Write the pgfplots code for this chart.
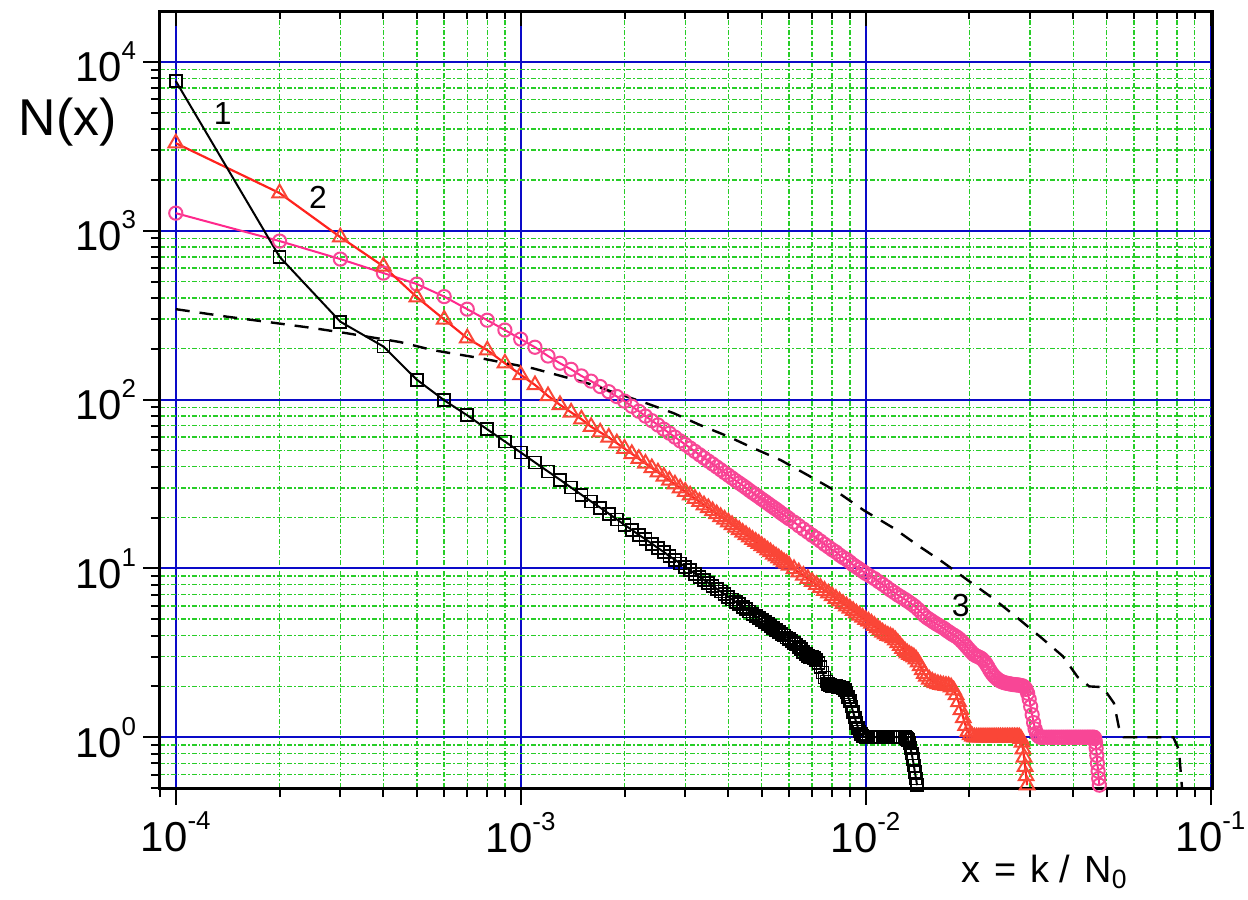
\documentclass[border=0pt]{standalone}
\usepackage{fontspec}
\setmainfont{Liberation Sans}
\usepackage{pgfplots}
\usepackage{pgfplotstable}
\pgfplotsset{compat=1.18}

\definecolor{majgrid}{RGB}{10,10,200}
\definecolor{mingrid}{RGB}{40,205,40}
\definecolor{redline}{RGB}{255,35,30}
\definecolor{redmark}{RGB}{250,70,55}
\definecolor{pinkline}{RGB}{255,40,140}
\definecolor{pinkmark}{RGB}{248,70,150}

% power-of-ten tick label
\newcommand{\dec}[1]{10\raisebox{11bp}{\fontsize{13}{13}\selectfont #1}}

% curve 1: k  N
\pgfplotstableread{
k N
1 7700
2 700
3 289
4 206
5 131
6 99
7 80.6
8 66.6
9 56.4
10 48.6
11 42.4
12 37.5
13 33.5
14 30.1
15 27.3
16 24.9
17 22.9
18 21.1
19 19.5
20 18.1
21 16.9
22 15.8
23 14.9
24 14.0
25 13.2
26 12.5
27 11.8
28 11.25
29 10.7
30 10.2
31 9.74
32 9.31
33 8.91
34 8.54
35 8.20
36 7.88
37 7.57
38 7.29
39 7.03
40 6.78
41 6.55
42 6.33
43 6.12
44 5.92
45 5.74
46 5.56
47 5.39
48 5.24
49 5.08
50 4.94
51 4.80
52 4.67
53 4.55
54 4.43
55 4.31
56 4.21
57 4.10
58 4.00
59 3.90
60 3.81
61 3.72
62 3.63
63 3.54
64 3.44
65 3.33
66 3.21
67 3.10
68 3.03
69 3.00
70 2.98
71 2.95
72 2.88
73 2.76
74 2.60
75 2.42
76 2.26
77 2.14
78 2.07
79 2.03
80 2.01
81 2.00
82 2.00
83 1.99
84 1.98
85 1.97
86 1.95
87 1.91
88 1.84
89 1.74
90 1.63
91 1.52
92 1.41
93 1.31
94 1.22
95 1.14
96 1.08
97 1.04
98 1.02
99 1.01
100 1.00
102 1.00
104 1.00
106 1.00
108 1.00
110 1.00
112 1.00
114 1.00
116 1.00
118 1.00
120 1.00
122 1.00
124 1.00
126 1.00
128 1.00
130 1.00
131 0.99
132 0.98
133 0.96
134 0.92
135 0.86
136 0.80
137 0.74
138 0.68
139 0.62
140 0.57
141 0.52
}\curveA

% curve 2: k  N
\pgfplotstableread{
k N
1 3300
2 1670
3 916
4 615
5 404
6 298
7 231
8 196
9 164
10 140
11 122
12 105
13 93
14 84
15 76.5
16 69
17 64
18 59.7
19 55.2
20 51.2
21 47.7
22 44.6
23 41.8
24 39.3
25 37.1
26 35.0
27 33.2
28 31.5
29 29.9
30 28.5
31 27.1
32 25.9
33 24.8
34 23.7
35 22.8
36 21.9
37 21.0
38 20.2
39 19.5
40 18.8
41 18.1
42 17.5
43 16.9
44 16.3
45 15.8
46 15.3
47 14.8
48 14.4
49 14.0
50 13.6
51 13.2
52 12.8
53 12.5
54 12.1
55 11.8
56 11.5
57 11.2
58 10.9
59 10.7
60 10.4
62 9.93
64 9.49
66 9.07
68 8.69
70 8.33
72 8.00
74 7.69
76 7.39
78 7.12
80 6.86
82 6.62
84 6.40
86 6.18
88 5.98
90 5.79
92 5.61
94 5.43
96 5.27
98 5.12
100 4.97
102 4.85
104 4.72
106 4.58
108 4.44
110 4.30
112 4.18
114 4.08
116 4.00
118 3.95
120 3.88
122 3.76
124 3.62
126 3.48
128 3.35
130 3.24
132 3.15
134 3.08
136 3.03
138 2.98
140 2.90
142 2.78
144 2.64
146 2.50
148 2.38
150 2.29
153 2.20
156 2.14
159 2.10
162 2.07
165 2.05
168 2.03
171 2.02
174 2.01
177 1.98
180 1.90
183 1.78
186 1.62
189 1.45
192 1.30
195 1.17
198 1.08
201 1.03
204 1.01
207 1.00
210 1.00
213 1.00
216 1.00
219 1.00
222 1.00
225 1.00
228 1.00
231 1.00
234 1.00
237 1.00
240 1.00
243 1.00
246 1.00
249 1.00
252 1.00
255 1.00
258 1.00
261 1.00
264 1.00
267 1.00
270 1.00
273 1.00
276 1.00
279 1.00
282 0.98
284 0.93
286 0.85
288 0.76
290 0.67
292 0.59
294 0.52
}\curveB

% curve 3 (markers): k  N
\pgfplotstableread{
k N
1 1270
2 868
3 679
4 561
5 483
6 407
7 343
8 295
9 258
10 228
11 204
12 181
13 164
14 151
15 138
16 128.5
17 119.4
18 111.3
19 104.2
20 97.9
21 91.2
22 85.2
23 79.8
24 75.0
25 70.7
26 66.7
27 63.2
28 59.9
29 56.9
30 54.2
31 51.6
32 49.3
33 47.1
34 45.1
35 43.2
36 41.5
37 39.9
38 38.4
39 36.9
40 35.6
41 34.3
42 33.1
43 32.0
44 31.0
45 30.0
46 29.0
47 28.1
48 27.3
49 26.5
50 25.7
51 25.0
52 24.3
53 23.6
54 23.0
55 22.4
56 21.8
57 21.2
58 20.7
59 20.2
60 19.7
62 18.8
64 17.9
66 17.1
68 16.4
70 15.7
72 15.1
74 14.5
76 13.9
78 13.4
80 12.9
82 12.5
84 12.0
86 11.6
88 11.3
90 10.9
92 10.5
94 10.2
96 9.91
98 9.62
100 9.34
103 9.00
106 8.70
109 8.35
112 8.05
115 7.75
118 7.45
121 7.20
124 6.95
127 6.75
130 6.55
133 6.35
136 6.15
139 5.95
142 5.72
145 5.48
148 5.25
151 5.08
154 4.95
157 4.82
160 4.70
163 4.60
166 4.50
169 4.40
172 4.28
175 4.18
178 4.08
181 4.00
184 3.92
187 3.82
190 3.70
193 3.58
196 3.45
199 3.33
202 3.22
205 3.12
208 3.05
211 3.01
214 2.97
217 2.92
220 2.84
223 2.74
226 2.62
229 2.50
232 2.40
235 2.32
238 2.26
241 2.21
244 2.17
247 2.14
250 2.12
253 2.10
256 2.09
259 2.08
262 2.07
265 2.06
268 2.05
271 2.05
274 2.04
277 2.04
280 2.03
283 2.02
286 2.01
289 1.98
292 1.92
295 1.82
298 1.68
301 1.52
304 1.36
307 1.22
310 1.12
313 1.06
316 1.02
320 1.00
325 1.00
330 1.00
335 1.00
340 1.00
345 1.00
350 1.00
355 1.00
360 1.00
365 1.00
370 1.00
375 1.00
380 1.00
385 1.00
390 1.00
395 1.00
400 1.00
405 1.00
410 1.00
415 1.00
420 1.00
425 1.00
430 1.00
435 1.00
440 1.00
445 1.00
450 1.00
455 1.00
460 1.00
462 0.98
464 0.93
466 0.86
468 0.78
470 0.70
472 0.63
474 0.57
476 0.52
}\curveC

% curve 3 (dashed): x  N
\pgfplotstableread{
x N
1.0e-4 343
1.4e-4 310
1.87e-4 287
2.5e-4 265
3.13e-4 247
4.47e-4 219
5.57e-4 196
7.62e-4 176
1.086e-3 153
1.56e-3 125
1.855e-3 110.6
2.268e-3 96.5
2.772e-3 83.1
3.319e-3 70.5
3.975e-3 60.7
4.73e-3 51.5
5.67e-3 43.8
6.79e-3 35.7
8.29e-3 28.3
9.87e-3 22.1
1.206e-2 17.3
1.416e-2 13.7
1.673e-2 10.9
1.978e-2 8.51
2.337e-2 6.66
2.762e-2 5.07
3.22e-2 3.91
3.73e-2 3.02
4.12e-2 2.27
4.45e-2 2.00
4.87e-2 1.98
5.25e-2 1.59
5.42e-2 1.15
5.60e-2 1.00
7.80e-2 1.00
8.10e-2 0.84
8.30e-2 0.45
}\curveD

\begin{document}
\begin{tikzpicture}
\begin{axis}[
  scale only axis,
  width=526bp, height=388.5bp,
  xmode=log, ymode=log,
  xmin=9e-5, xmax=0.101,
  ymin=0.5, ymax=2e4,
  xtick={1e-4,1e-3,1e-2,1e-1},
  xticklabels={\dec{-4},\dec{-3},\dec{-2},\dec{-1}},
  minor xtick={9e-5,2e-4,3e-4,4e-4,5e-4,6e-4,7e-4,8e-4,9e-4,
               2e-3,3e-3,4e-3,5e-3,6e-3,7e-3,8e-3,9e-3,
               2e-2,3e-2,4e-2,5e-2,6e-2,7e-2,8e-2,9e-2},
  ytick={1,10,100,1000,10000},
  yticklabels={\dec{0},\dec{1},\dec{2},\dec{3},\dec{4}},
  minor ytick={0.5,0.6,0.7,0.8,0.9,2,3,4,5,6,7,8,9,
               20,30,40,50,60,70,80,90,200,300,400,500,600,700,800,900,
               2000,3000,4000,5000,6000,7000,8000,9000},
  grid=both,
  major grid style={draw=majgrid, line width=1bp, solid},
  minor grid style={draw=mingrid, line width=0.7bp,
                    dash pattern=on 2.5bp off 1bp on 0.8bp off 1bp},
  axis line style={line width=1.5bp},
  tick align=outside,
  xtick pos=left, ytick pos=left,
  major tick length=8.5bp, minor tick length=4.5bp,
  tick style={black, line width=1bp},
  ticklabel style={font=\fontsize{21}{21}\selectfont},
  xlabel={x\hspace{7bp}=\hspace{7bp}k\hspace{5bp}/\hspace{7bp}N\textsubscript{0}},
  xlabel style={at={(rel axis cs:0.841,-0.121)}, anchor=base,
                font=\fontsize{19}{19}\selectfont, inner sep=0pt},
  ylabel={N(x)},
  ylabel style={rotate=-90, at={(rel axis cs:-0.0879,0.8404)}, anchor=base,
                font=\fontsize{26}{26}\selectfont, inner sep=0pt},
]
\addplot[pinkline, line width=1bp, mark=o, mark size=3.3bp,
  mark options={solid, fill=white, draw=pinkmark, line width=1bp}]
  table[x expr=\thisrow{k}/10000, y=N] {\curveC};
\addplot[redline, line width=1.1bp, mark=triangle, mark size=4.2bp,
  mark options={solid, fill=white, draw=redmark, line width=1bp}]
  table[x expr=\thisrow{k}/10000, y=N] {\curveB};
\addplot[black, line width=1bp, mark=square, mark size=3bp,
  mark options={solid, fill=white, draw=black, line width=0.9bp}]
  table[x expr=\thisrow{k}/10000, y=N] {\curveA};
\addplot[black, line width=1.2bp, dash pattern=on 7bp off 5bp]
  table[x=x, y=N] {\curveD};

\node[font=\fontsize{16}{16}\selectfont] at (axis cs:1.369e-4,4974) {1};
\node[font=\fontsize{16}{16}\selectfont] at (axis cs:2.584e-4,1581) {2};
\node[font=\fontsize{16}{16}\selectfont] at (axis cs:1.887e-2,6.05) {3};

\coordinate (bbSW) at (rel axis cs:-0.1521,-0.1429);
\coordinate (bbNE) at (rel axis cs:1.0342,1.0142);
\end{axis}
% inward ticks along the top edge
\begin{axis}[
  scale only axis,
  width=526bp, height=388.5bp,
  xmode=log, ymode=log,
  xmin=9e-5, xmax=0.101,
  ymin=0.5, ymax=2e4,
  grid=none,
  axis x line*=top, axis y line=none,
  ytick=\empty,
  xtick={1e-4,1e-3,1e-2,1e-1},
  minor xtick={9e-5,2e-4,3e-4,4e-4,5e-4,6e-4,7e-4,8e-4,9e-4,
               2e-3,3e-3,4e-3,5e-3,6e-3,7e-3,8e-3,9e-3,
               2e-2,3e-2,4e-2,5e-2,6e-2,7e-2,8e-2,9e-2},
  xticklabels={},
  tick align=inside,
  major tick length=7.5bp, minor tick length=4bp,
  tick style={black, line width=1bp},
  axis line style={line width=1.5bp, -},
]
\end{axis}
\pgfresetboundingbox
\useasboundingbox (bbSW) rectangle (bbNE);
\end{tikzpicture}
\end{document}
